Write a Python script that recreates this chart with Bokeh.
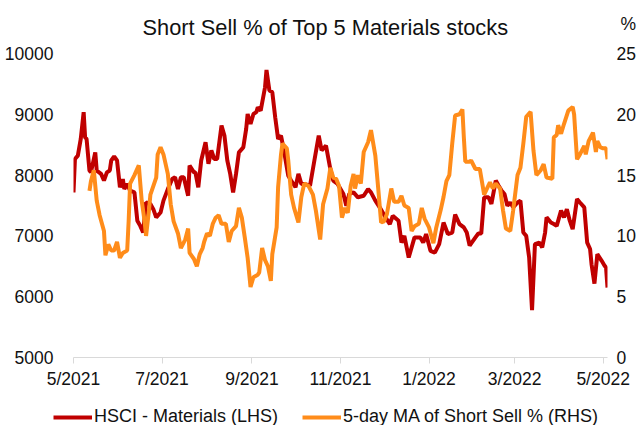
import pandas as pd
from bokeh.plotting import figure
from bokeh.layouts import column
from bokeh.models import (Range1d, LinearAxis, FixedTicker, DatetimeTickFormatter,
                          Legend, LegendItem, Label)
from bokeh.embed import file_html
from bokeh.resources import INLINE

FONT = "Liberation Sans"
TEXT = "#111111"
RED = "#C00000"
ORANGE = "#FF8C1A"
LW = 4

title_text = "Short Sell % of Top 5 Materials stocks"
right_unit = "%"
series_names = ["HSCI - Materials (LHS)", "5-day MA of Short Sell % (RHS)"]

# HSCI - Materials index level (left axis)
hsci_dates = [
    "2021-05-03", "2021-05-04", "2021-05-06", "2021-05-08", "2021-05-10", "2021-05-11", "2021-05-12", "2021-05-14", "2021-05-15", "2021-05-18",
    "2021-05-19", "2021-05-22", "2021-05-24", "2021-05-26", "2021-05-28", "2021-05-29", "2021-05-31", "2021-06-02", "2021-06-04", "2021-06-06",
    "2021-06-07", "2021-06-09", "2021-06-11", "2021-06-14", "2021-06-16", "2021-06-18", "2021-06-20", "2021-06-22", "2021-06-25", "2021-06-27",
    "2021-06-29", "2021-07-02", "2021-07-04", "2021-07-07", "2021-07-10", "2021-07-12", "2021-07-14", "2021-07-16", "2021-07-18", "2021-07-21",
    "2021-07-22", "2021-07-25", "2021-07-26", "2021-07-28", "2021-07-30", "2021-08-02", "2021-08-04", "2021-08-06", "2021-08-08", "2021-08-10",
    "2021-08-13", "2021-08-15", "2021-08-17", "2021-08-19", "2021-08-21", "2021-08-23", "2021-08-25", "2021-08-28", "2021-08-30", "2021-08-31",
    "2021-09-02", "2021-09-04", "2021-09-06", "2021-09-07", "2021-09-09", "2021-09-12", "2021-09-13", "2021-09-15", "2021-09-17", "2021-09-19",
    "2021-09-21", "2021-09-23", "2021-09-25", "2021-09-28", "2021-09-30", "2021-10-03", "2021-10-05", "2021-10-07", "2021-10-09", "2021-10-13",
    "2021-10-16", "2021-10-19", "2021-10-21", "2021-10-24", "2021-10-27", "2021-10-29", "2021-11-01", "2021-11-05", "2021-11-07", "2021-11-09",
    "2021-11-12", "2021-11-15", "2021-11-19", "2021-11-22", "2021-11-24", "2021-11-27", "2021-11-30", "2021-12-04", "2021-12-07", "2021-12-09",
    "2021-12-13", "2021-12-15", "2021-12-17", "2021-12-20", "2021-12-22", "2021-12-24", "2021-12-28", "2021-12-30", "2022-01-01", "2022-01-04",
    "2022-01-07", "2022-01-10", "2022-01-13", "2022-01-16", "2022-01-19", "2022-01-21", "2022-01-24", "2022-01-27", "2022-01-29", "2022-01-31",
    "2022-02-04", "2022-02-06", "2022-02-08", "2022-02-10", "2022-02-13", "2022-02-15", "2022-02-18", "2022-02-20", "2022-02-22", "2022-02-24",
    "2022-02-26", "2022-02-28", "2022-03-02", "2022-03-05", "2022-03-07", "2022-03-09", "2022-03-11", "2022-03-13", "2022-03-15", "2022-03-17",
    "2022-03-20", "2022-03-22", "2022-03-24", "2022-03-25", "2022-03-28", "2022-03-30", "2022-04-01", "2022-04-04", "2022-04-06", "2022-04-08",
    "2022-04-10", "2022-04-12", "2022-04-15", "2022-04-17", "2022-04-20", "2022-04-22", "2022-04-24", "2022-04-25", "2022-04-27", "2022-04-29",
    "2022-05-02", "2022-05-04", "2022-05-05", "2022-05-06",
]
hsci_values = [
    7715, 8265, 8320, 8595, 9035, 8620, 8595, 8075, 8045, 8375,
    8075, 8020, 7910, 8045, 8075, 8240, 8305, 8240, 7800, 7935,
    7770, 7855, 7745, 7715, 7250, 7165, 7055, 7550, 7525, 7440,
    7305, 7385, 7580, 7770, 7935, 7965, 7770, 7965, 7965, 7660,
    8155, 8045, 8045, 7800, 8240, 8540, 8185, 8405, 8265, 8265,
    8815, 8650, 8240, 8020, 7715, 8020, 8375, 8455, 8760, 9005,
    8840, 9005, 9035, 9115, 9060, 9445, 9730, 9390, 9365, 8950,
    8595, 8650, 8405, 7990, 7910, 7800, 8020, 7855, 7855, 7825,
    8240, 8650, 8405, 8485, 8100, 7910, 7855, 7690, 7495, 7690,
    7715, 7635, 7660, 7770, 7715, 7580, 7470, 7305, 7195, 7330,
    7250, 6890, 7000, 6645, 6810, 6975, 6975, 6890, 7030, 6755,
    6725, 6865, 7220, 7030, 7055, 7350, 7195, 7140, 7055, 6840,
    6975, 7040, 7040, 7635, 7635, 7525, 7910, 7825, 7745, 7690,
    7495, 7550, 7470, 7550, 7580, 7055, 7000, 6645, 5780, 6865,
    6890, 6810, 7055, 7305, 7220, 7195, 7165, 7415, 7305, 7440,
    7250, 7110, 7605, 7550, 7470, 6890, 6785, 6535, 6215, 6700,
    6590, 6510, 6480, 6150,
]

# 5-day moving average of short-sell % (right axis)
ss_dates = [
    "2021-05-14", "2021-05-15", "2021-05-17", "2021-05-19", "2021-05-21", "2021-05-24", "2021-05-25", "2021-05-27", "2021-05-29", "2021-05-31",
    "2021-06-02", "2021-06-04", "2021-06-06", "2021-06-09", "2021-06-10", "2021-06-11", "2021-06-14", "2021-06-17", "2021-06-19", "2021-06-21",
    "2021-06-22", "2021-06-24", "2021-06-25", "2021-06-27", "2021-06-29", "2021-06-30", "2021-07-02", "2021-07-04", "2021-07-07", "2021-07-09",
    "2021-07-11", "2021-07-14", "2021-07-16", "2021-07-19", "2021-07-21", "2021-07-22", "2021-07-25", "2021-07-27", "2021-07-29", "2021-07-31",
    "2021-08-01", "2021-08-03", "2021-08-05", "2021-08-07", "2021-08-09", "2021-08-11", "2021-08-13", "2021-08-16", "2021-08-18", "2021-08-20",
    "2021-08-23", "2021-08-25", "2021-08-27", "2021-08-29", "2021-08-31", "2021-09-02", "2021-09-04", "2021-09-07", "2021-09-08", "2021-09-10",
    "2021-09-12", "2021-09-14", "2021-09-16", "2021-09-17", "2021-09-20", "2021-09-21", "2021-09-23", "2021-09-24", "2021-09-27", "2021-09-28",
    "2021-09-30", "2021-10-02", "2021-10-05", "2021-10-07", "2021-10-09", "2021-10-12", "2021-10-15", "2021-10-17", "2021-10-20", "2021-10-22",
    "2021-10-25", "2021-10-27", "2021-10-29", "2021-10-31", "2021-11-02", "2021-11-04", "2021-11-06", "2021-11-08", "2021-11-10", "2021-11-12",
    "2021-11-13", "2021-11-15", "2021-11-17", "2021-11-19", "2021-11-22", "2021-11-24", "2021-11-27", "2021-11-29", "2021-12-01", "2021-12-03",
    "2021-12-05", "2021-12-08", "2021-12-10", "2021-12-13", "2021-12-15", "2021-12-17", "2021-12-20", "2021-12-22", "2021-12-24", "2021-12-27",
    "2021-12-29", "2021-12-31", "2022-01-03", "2022-01-06", "2022-01-08", "2022-01-11", "2022-01-13", "2022-01-15", "2022-01-17", "2022-01-19",
    "2022-01-21", "2022-01-24", "2022-01-26", "2022-01-27", "2022-01-28", "2022-01-31", "2022-02-01", "2022-02-04", "2022-02-07", "2022-02-10",
    "2022-02-12", "2022-02-14", "2022-02-16", "2022-02-18", "2022-02-21", "2022-02-23", "2022-02-25", "2022-02-28", "2022-03-02", "2022-03-05",
    "2022-03-07", "2022-03-09", "2022-03-11", "2022-03-14", "2022-03-16", "2022-03-18", "2022-03-21", "2022-03-23", "2022-03-25", "2022-03-29",
    "2022-03-30", "2022-04-01", "2022-04-02", "2022-04-04", "2022-04-06", "2022-04-09", "2022-04-12", "2022-04-13", "2022-04-15", "2022-04-17",
    "2022-04-20", "2022-04-21", "2022-04-23", "2022-04-26", "2022-04-28", "2022-04-29", "2022-05-01", "2022-05-03", "2022-05-05", "2022-05-06",
]
ss_values = [
    13.7, 14.5, 15.4, 12.9, 11.7, 10.4, 8.4, 9.3, 8.8, 8.8,
    9.5, 8.2, 8.6, 8.8, 11.2, 14.3, 15.0, 15.8, 12.9, 11.2,
    10.0, 12.1, 13.4, 14.1, 14.8, 16.7, 17.3, 16.7, 15.1, 12.6,
    11.2, 10.2, 9.0, 9.7, 10.6, 8.6, 8.1, 7.5, 8.5, 9.0,
    9.5, 10.2, 10.0, 11.0, 11.5, 11.7, 11.0, 11.0, 9.5, 10.4,
    10.8, 12.3, 11.5, 9.9, 8.2, 5.8, 6.6, 6.8, 7.0, 9.0,
    8.0, 7.5, 6.3, 8.5, 10.7, 14.0, 16.7, 17.6, 17.2, 16.2,
    13.4, 12.3, 11.1, 13.2, 14.3, 14.1, 13.4, 12.1, 9.7, 12.6,
    13.9, 15.6, 14.8, 14.7, 14.1, 11.5, 12.3, 11.9, 14.1, 15.1,
    13.9, 15.0, 14.3, 16.9, 17.7, 18.7, 16.6, 13.9, 11.1, 11.2,
    11.8, 13.9, 12.8, 12.8, 13.3, 12.5, 12.3, 10.4, 10.8, 11.0,
    12.3, 11.4, 10.7, 9.4, 10.7, 12.1, 13.2, 14.5, 15.0, 17.6,
    19.9, 20.0, 20.4, 18.1, 16.1, 16.1, 16.2, 15.5, 15.5, 13.4,
    13.9, 14.4, 13.9, 14.3, 13.9, 12.1, 10.6, 10.4, 12.1, 15.0,
    15.6, 17.6, 19.8, 20.2, 17.0, 15.0, 15.4, 15.9, 14.8, 14.7,
    18.1, 18.3, 19.1, 18.4, 19.2, 20.3, 20.6, 20.0, 16.3, 16.7,
    17.4, 16.7, 17.8, 18.5, 16.9, 17.8, 17.3, 17.2, 17.2, 16.3,
]

x_tick_dates = ["2021-05-03", "2021-07-03", "2021-09-03", "2021-11-03",
                "2022-01-03", "2022-03-03", "2022-05-03"]
left_ticks = [5000, 6000, 7000, 8000, 9000, 10000]
right_ticks = [0, 5, 10, 15, 20, 25]
x_start, x_end = "2021-05-03", "2022-05-06"

W = 638
H_HEAD, H_MAIN, H_LEG = 45, 350, 30


def ms(d):
    return pd.Timestamp(d).value / 1e6


def bare_figure(height):
    f = figure(width=W, height=height, output_backend="svg", toolbar_location=None,
               x_range=Range1d(0, 1), y_range=Range1d(0, 1),
               x_axis_location=None, y_axis_location=None, min_border=0)
    f.grid.visible = False
    f.outline_line_color = None
    f.background_fill_color = "white"
    f.border_fill_color = "white"
    return f


# ---- header: title and right-axis unit ----
head = bare_figure(H_HEAD)
head.add_layout(Label(x=325, y=H_HEAD - 27, x_units="screen", y_units="screen",
                      text=title_text, text_font=FONT, text_font_size="21.8px",
                      text_color=TEXT, text_align="center", text_baseline="alphabetic"))
head.add_layout(Label(x=620, y=H_HEAD - 23.5, x_units="screen", y_units="screen",
                      text=right_unit, text_font=FONT, text_font_size="17.5px",
                      text_color=TEXT, text_align="left", text_baseline="alphabetic"))

# ---- main chart ----
p = figure(width=W, height=H_MAIN, x_axis_type="datetime",
           output_backend="svg", toolbar_location=None,
           x_range=Range1d(ms(x_start), ms(x_end)),
           y_range=Range1d(left_ticks[0], left_ticks[-1]),
           min_border_left=73, min_border_right=31,
           min_border_top=8, min_border_bottom=38)
p.extra_y_ranges = {"pct": Range1d(right_ticks[0], right_ticks[-1])}
p.outline_line_color = None
p.xgrid.visible = False
p.ygrid.visible = False
p.background_fill_color = "white"
p.border_fill_color = "white"

xa = p.xaxis[0]
xa.ticker = FixedTicker(ticks=[ms(d) for d in x_tick_dates])
fmt = "%-m/%Y"
xa.formatter = DatetimeTickFormatter(microseconds=fmt, milliseconds=fmt, seconds=fmt,
                                     minsec=fmt, minutes=fmt, hourmin=fmt, hours=fmt,
                                     days=fmt, months=fmt, years=fmt)
xa.axis_line_color = "#D9D9D9"
xa.axis_line_width = 1
xa.major_tick_line_color = "#D9D9D9"
xa.major_tick_out = 6
xa.major_tick_in = 0
xa.minor_tick_line_color = None
xa.major_label_text_font = FONT
xa.major_label_text_font_size = "17.5px"
xa.major_label_text_color = TEXT
xa.major_label_standoff = 5

ya = p.yaxis[0]
ya.ticker = FixedTicker(ticks=left_ticks)
ya.axis_line_color = None
ya.major_tick_line_color = None
ya.minor_tick_line_color = None
ya.major_label_text_font = FONT
ya.major_label_text_font_size = "17.5px"
ya.major_label_text_color = TEXT
ya.major_label_standoff = 14

ra = LinearAxis(y_range_name="pct", ticker=FixedTicker(ticks=right_ticks))
ra.axis_line_color = None
ra.major_tick_line_color = None
ra.minor_tick_line_color = None
ra.major_label_text_font = FONT
ra.major_label_text_font_size = "17.5px"
ra.major_label_text_color = TEXT
ra.major_label_standoff = 3
p.add_layout(ra, "right")

hx = [ms(d) for d in hsci_dates]
sx = [ms(d) for d in ss_dates]
p.line(hx, hsci_values, line_color=RED, line_width=LW)
p.line(sx, ss_values, line_color=ORANGE, line_width=LW, y_range_name="pct")

# ---- legend strip (swatch renderers hold no visible data) ----
leg = bare_figure(H_LEG)
nan = float("nan")
k1 = leg.line([nan], [nan], line_color=RED, line_width=LW)
k2 = leg.line([nan], [nan], line_color=ORANGE, line_width=LW)
legend = Legend(items=[LegendItem(label=series_names[0], renderers=[k1]),
                       LegendItem(label=series_names[1], renderers=[k2])],
                orientation="horizontal", location=(53, -2),
                glyph_width=39, glyph_height=20, label_height=20,
                label_standoff=2, spacing=24, padding=0, margin=0,
                border_line_color=None, background_fill_alpha=0,
                label_text_font=FONT, label_text_font_size="18px",
                label_text_color=TEXT)
leg.add_layout(legend)

# nested columns keep the header and legend strips independent of the chart frame
layout = column(column(head), p, column(leg), spacing=0)
open("out.html", "w").write(file_html(layout, INLINE))
